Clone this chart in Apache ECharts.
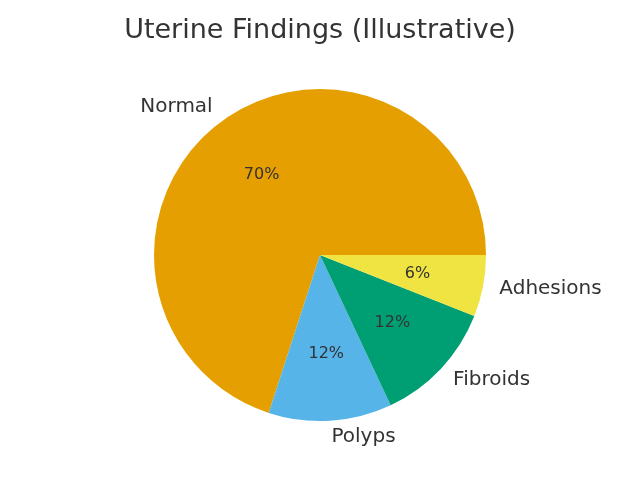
<!DOCTYPE html>
<html lang="en">
<head>
    <meta charset="utf-8">
    <title>Uterine Findings (Illustrative)</title>
    <style>
        html, body { margin: 0; padding: 0; background: #fff; }
        #chart { width: 640px; height: 480px; }
    </style>
</head>
<body>
<div id="chart"></div>
<script src="https://cdn.jsdelivr.net/npm/echarts@6.0.0/dist/echarts.min.js"></script>
<script type="text/javascript">

// data
var categories = ['Normal', 'Polyps', 'Fibroids', 'Adhesions'];
var values = [70, 12, 12, 6];
var colors = ['#E69F00', '#56B4E9', '#009E73', '#F0E442'];

var R = 166;
var textColor = '#333333';
var font = 'DejaVu Sans';

var pieData = categories.map(function (name, i) {
    return { name: name, value: values[i], itemStyle: { color: colors[i] } };
});

var chart = echarts.init(document.getElementById('chart'));
var option = {
    animation: false,
    title: {
        text: 'Uterine Findings (Illustrative)',
        left: 'center',
        top: 12,
        textStyle: { fontFamily: font, fontSize: 27, fontWeight: 'normal', color: textColor }
    },
    series: [{
        // slices + name labels at 1.1 r
        type: 'pie',
        center: [320, 255],
        radius: [0, R],
        startAngle: 0,
        clockwise: false,
        avoidLabelOverlap: false,
        silent: true,
        itemStyle: { borderWidth: 0 },
        label: {
            position: 'outside',
            formatter: '{b}',
            distanceToLabelLine: 0,
            fontFamily: font,
            fontSize: 20,
            color: textColor
        },
        labelLine: { show: false, length: R * 0.1, length2: 0 },
        data: pieData
    }, {
        // percentage labels at ~0.6 r
        type: 'pie',
        center: [320, 255],
        radius: [R * 0.16, R],
        startAngle: 0,
        clockwise: false,
        silent: true,
        itemStyle: { color: 'rgba(0,0,0,0)', borderWidth: 0 },
        label: {
            position: 'inside',
            formatter: function (p) { return Math.round(p.percent) + '%'; },
            fontFamily: font,
            fontSize: 16,
            color: textColor
        },
        labelLine: { show: false },
        data: categories.map(function (name, i) { return { name: name, value: values[i] }; })
    }]
};
chart.setOption(option);

</script>
</body>
</html>
